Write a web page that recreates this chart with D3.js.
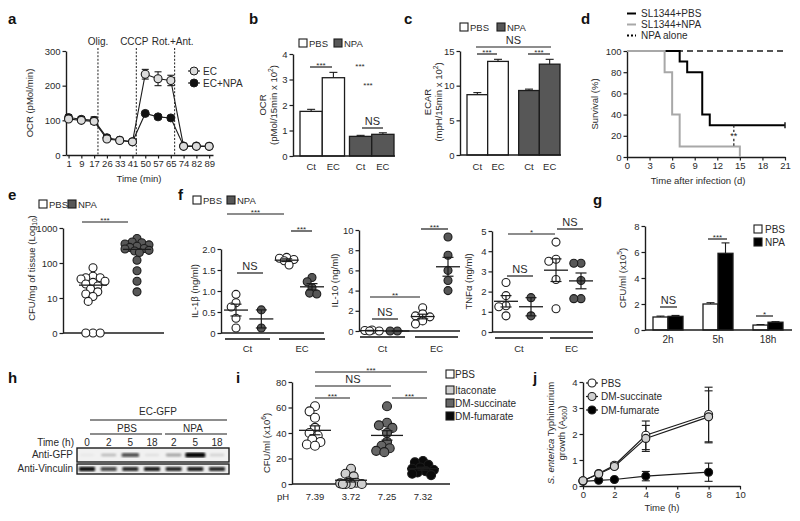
<!DOCTYPE html>
<html><head><meta charset="utf-8">
<script src="https://cdn.jsdelivr.net/npm/d3@7"></script>
<style>
body{margin:0;background:#fff}
svg{display:block;font-family:"Liberation Sans",Arial,Helvetica,sans-serif}
</style></head><body>
<svg id="fig" width="800" height="521"></svg>
<script>
// ================= DATA =================
// a: OCR time course
const aTimes=[1,9,17,26,33,41,50,57,65,74,82,89];
const aEC=[104,100,97,46,42,38,233,220,215,25,25,25];
const aECerr=[6,5,8,4,3,3,14,20,15,3,3,3];
const aECNPA=[108,103,100,50,43,38,120,110,107,26,26,25];
const aECNPAerr=[8,8,10,5,4,4,6,6,5,3,3,3];
const aInjectNames=["Olig.","CCCP","Rot.+Ant."];
const aInjectAfter=[2,5,8];
// b: OCR bars
const bSamples=["Ct","EC"];
const bPBS=[1.75,3.07], bPBSerr=[0.08,0.21];
const bNPA=[0.77,0.85], bNPAerr=[0.04,0.06];
// c: ECAR bars
const cPBS=[8.7,13.5], cPBSerr=[0.3,0.3];
const cNPA=[9.3,13.1], cNPAerr=[0.2,0.7];
// d: survival
const dPBSdays=[0,7,8,10,11,21], dPBS=[100,90,80,40,30,30];
const dNPAdays=[0,5,6,7,15], dNPA=[100,80,40,10,0];
const dAloneDays=[0,21], dAlone=[100,100];
const dLegend=["SL1344+PBS","SL1344+NPA","NPA alone"];
// e: CFU per mg tissue
const ePBS=[73,42,38,38,35,30,28,25,22,18,15,13,11,8,0,0,0];
const eNPA=[500,400,380,350,330,300,280,260,250,230,220,200,120,60,30,15];
// f: cytokines [Ct PBS, Ct NPA, EC PBS, EC NPA]
const fGroups=["Ct PBS","Ct NPA","EC PBS","EC NPA"];
const fIL1b=[[0.92,0.72,0.62,0.35,0.12],[0.55,0.12],[1.8,1.78,1.75,1.72,1.62],[1.32,1.22,1.08,0.95,0.93]];
const fIL10=[[0.1,0.05,0,0],[0,0],[2.3,1.7,1.5,1.4,1.0,0.7],[9.3,7.5,6.0,5.0,4.0]];
const fTNF=[[2.45,1.8,1.3,1.25,0.8],[1.7,0.8],[4.45,3.6,3.5,2.6,1.15],[3.4,3.4,2.55,1.65,1.65]];
// g: CFU bars
const gTimes=["2h","5h","18h"];
const gPBS=[1.0,2.0,0.38], gPBSerr=[0.07,0.1,0.04];
const gNPA=[1.05,5.9,0.6], gNPAerr=[0.07,0.8,0.04];
// h: western blot
const hLanes=["0","2","5","18","2","5","18"];
const hGFP=[0.04,0.22,0.6,0.08,0.3,1.0,0.12];
const hVinc=[0.95,0.7,0.85,0.9,0.85,0.9,0.85];
// i: CFU with metabolites
const iGroups=["PBS","Itaconate","DM-succinate","DM-fumarate"];
const iPH=["7.39","3.72","7.25","7.32"];
const iPBS=[61,57,52,44,40,38,35,33,31,30];
const iIta=[12,8,6,2,1,0.5,0,0,0,0];
const iSucc=[61,48,46,44,40,33,30,28,26,25];
const iFum=[18,17,15,13,12,11,10,9,8,7];
// j: growth curves
const jTime=[0,1,2,4,8];
const jPBS=[0.2,0.48,0.8,1.95,2.75], jPBSerr=[0.02,0.04,0.08,0.55,1.05];
const jSucc=[0.2,0.46,0.75,1.83,2.66], jSuccErr=[0.02,0.04,0.07,0.5,1.0];
const jFum=[0.18,0.22,0.25,0.38,0.53], jFumErr=[0.02,0.03,0.04,0.18,0.35];

// ================= HELPERS =================
const svg=d3.select("#fig");
const INK="#1c1c1c", TXT="#2a2a2a", NPAC="#575757", FS=9.5;

function txt(x,y,s,o={}){
  const t=svg.append("text").attr("x",x).attr("y",y).attr("font-size",o.size||FS)
    .attr("fill",o.fill||TXT).attr("text-anchor",o.anchor||"start").text(s);
  if(o.weight) t.attr("font-weight",o.weight);
  return t;
}
function panel(x,y,s){ txt(x,y,s,{size:15,weight:"bold",fill:"#111"}); }
function rich(x,y,parts,o={}){
  const size=o.size||FS;
  const t=svg.append("text").attr("transform",`translate(${x},${y}) rotate(${o.rot===undefined?-90:o.rot})`)
    .attr("text-anchor",o.anchor||"middle").attr("font-size",size).attr("fill",TXT);
  let shift=0;
  parts.forEach(p=>{
    const [s,k]=Array.isArray(p)?p:[p,null];
    const ts=t.append("tspan").text(s);
    let target=0;
    if(k==="sup"){target=-size*0.38; ts.attr("font-size",size*0.7);}
    if(k==="sub"){target=size*0.25; ts.attr("font-size",size*0.7);}
    if(k==="i") ts.attr("font-style","italic");
    if(target!==shift){ts.attr("dy",target-shift); shift=target;}
  });
  return t;
}
function line(x1,y1,x2,y2,o={}){
  const l=svg.append("line").attr("x1",x1).attr("y1",y1).attr("x2",x2).attr("y2",y2)
    .attr("stroke",o.stroke||INK).attr("stroke-width",o.w||1.2);
  if(o.dash) l.attr("stroke-dasharray",o.dash);
  return l;
}
function leftAxis(x,y,ticks,fmt){
  const g=svg.append("g").attr("transform",`translate(${x},0)`)
    .call(d3.axisLeft(y).tickValues(ticks).tickFormat(fmt||(d=>d)).tickSize(3.5).tickSizeOuter(0).tickPadding(2));
  g.attr("font-family",null).attr("font-size",null);
  g.select(".domain").attr("stroke",INK).attr("stroke-width",1.4);
  g.selectAll(".tick line").attr("stroke",INK).attr("stroke-width",1.2);
  g.selectAll(".tick text").attr("fill",TXT).attr("font-size",FS);
  return g;
}
function bottomAxis(yPos,x,ticks,fmt){
  const g=svg.append("g").attr("transform",`translate(0,${yPos})`)
    .call(d3.axisBottom(x).tickValues(ticks).tickFormat(fmt||(d=>d)).tickSize(3.5).tickSizeOuter(0).tickPadding(2));
  g.attr("font-family",null).attr("font-size",null);
  g.select(".domain").attr("stroke",INK).attr("stroke-width",1.4);
  g.selectAll(".tick line").attr("stroke",INK).attr("stroke-width",1.2);
  g.selectAll(".tick text").attr("fill",TXT).attr("font-size",FS);
  return g;
}
function sig(x1,x2,y,label){
  line(x1,y,x2,y,{w:1.2});
  if(label.includes("*")) txt((x1+x2)/2,y+0.5,label,{anchor:"middle",size:8});
  else txt((x1+x2)/2,y-3,label,{anchor:"middle",size:11});
}
function box(x,y,fill,s=8){
  svg.append("rect").attr("x",x).attr("y",y).attr("width",s).attr("height",s)
    .attr("fill",fill).attr("stroke",INK).attr("stroke-width",1.1);
}
function errBar(x,y1,y2,cap){
  line(x,y1,x,y2,{w:1.1});
  line(x-cap/2,y2,x+cap/2,y2,{w:1.1});
}
// simple beeswarm: compact horizontal dodge, overlap allowed when crowded
function dodge(values,yf,r,cx,maxOff){
  const minD=r*1.45, step=r*0.6;
  const items=values.map(v=>({v,y:yf(v)})).sort((a,b)=>d3.ascending(a.y,b.y)||d3.descending(a.v,b.v));
  const placed=[];
  for(const it of items){
    let best=null,bestD=-1;
    for(let k=0;;k++){
      const off=(k===0?0:(k%2?-1:1)*Math.ceil(k/2))*step;
      if(Math.abs(off)>maxOff) break;
      const x=cx+off;
      const dmin=placed.length?d3.min(placed,p=>Math.hypot(p.x-x,p.y-it.y)):Infinity;
      if(dmin>=minD){best=x;break;}
      if(dmin>bestD){bestD=dmin;best=x;}
    }
    it.x=best; placed.push(it);
  }
  return placed;
}
function dots(values,cx,yf,r,fill,maxOff){
  const pts=dodge(values,yf,r,cx,maxOff);
  svg.append("g").selectAll("circle").data(pts).join("circle")
    .attr("cx",d=>d.x).attr("cy",d=>d.y).attr("r",r)
    .attr("fill",fill).attr("stroke",INK).attr("stroke-width",1.1);
}
function meanSem(values,cx,yf,half,cap){
  const m=d3.mean(values);
  line(cx-half,yf(m),cx+half,yf(m),{w:1.3});
  const s=d3.deviation(values)/Math.sqrt(values.length);
  line(cx,yf(m-s),cx,yf(m+s),{w:1.2});
  line(cx-cap/2,yf(m+s),cx+cap/2,yf(m+s),{w:1.2});
  line(cx-cap/2,yf(m-s),cx+cap/2,yf(m-s),{w:1.2});
}

// ================= PANEL a =================
panel(8,24,"a");
{
  const x=d3.scaleLinear().domain([-0.2,11.3]).range([66,213]);
  const y=d3.scaleLinear().domain([0,300]).range([155,51]);
  aInjectAfter.forEach((k,i)=>{
    const xx=x(k+0.3);
    line(xx,48,xx,155,{w:1,dash:"2,1.6"});
    txt(xx+(i===0?0:-2),45,aInjectNames[i],{anchor:"middle",size:10});
  });
  leftAxis(66,y,[0,100,200,300]);
  bottomAxis(155,x,d3.range(aTimes.length),i=>aTimes[i]);
  const idx=d3.range(aTimes.length);
  const ln=d3.line().x(i=>x(i));
  svg.append("path").attr("d",ln.y(i=>y(aEC[i]))(idx)).attr("fill","none").attr("stroke",INK).attr("stroke-width",1.1);
  svg.append("path").attr("d",ln.y(i=>y(aECNPA[i]))(idx)).attr("fill","none").attr("stroke",INK).attr("stroke-width",1.1);
  idx.forEach(i=>{
    errBar(x(i),y(aEC[i]-aECerr[i]),y(aEC[i]+aECerr[i]),7);
    line(x(i)-3.5,y(aEC[i]-aECerr[i]),x(i)+3.5,y(aEC[i]-aECerr[i]),{w:1.1});
    errBar(x(i),y(aECNPA[i]-aECNPAerr[i]),y(aECNPA[i]+aECNPAerr[i]),7);
    line(x(i)-3.5,y(aECNPA[i]-aECNPAerr[i]),x(i)+3.5,y(aECNPA[i]-aECNPAerr[i]),{w:1.1});
  });
  svg.append("g").selectAll("circle").data(idx).join("circle")
    .attr("cx",i=>x(i)).attr("cy",i=>y(aECNPA[i])).attr("r",4).attr("fill","#111").attr("stroke",INK);
  svg.append("g").selectAll("circle").data(idx).join("circle")
    .attr("cx",i=>x(i)).attr("cy",i=>y(aEC[i])).attr("r",4).attr("fill","#dcdcdc").attr("stroke",INK).attr("stroke-width",1.1);
  rich(33,103,["OCR (pMol/min)"]);
  txt(139,182,"Time (min)",{anchor:"middle"});
  line(188,71,200,71,{w:1.1}); svg.append("circle").attr("cx",194).attr("cy",71).attr("r",4).attr("fill","#dcdcdc").attr("stroke",INK);
  txt(203,74.5,"EC",{size:10});
  line(188,83,200,83,{w:1.1}); svg.append("circle").attr("cx",194).attr("cy",83).attr("r",4).attr("fill","#111").attr("stroke",INK);
  txt(203,86.5,"EC+NPA",{size:10});
}

// ================= PANEL b =================
panel(249,24,"b");
{
  const y=d3.scaleLinear().domain([0,4]).range([156,54]);
  const xo=d3.scaleBand().domain(["PBS","NPA"]).range([300,394]).paddingInner(0.1);
  const xi=d3.scaleBand().domain(bSamples).range([0,xo.bandwidth()]);
  const sets=[["PBS",bPBS,bPBSerr,"#fff"],["NPA",bNPA,bNPAerr,NPAC]];
  sets.forEach(([c,v,e,f])=>{
    bSamples.forEach((s,i)=>{
      const x0=xo(c)+xi(s);
      errBar(x0+xi.bandwidth()/2,y(v[i]),y(v[i]+e[i]),8);
      svg.append("rect").attr("x",x0).attr("y",y(v[i])).attr("width",xi.bandwidth()).attr("height",y(0)-y(v[i]))
        .attr("fill",f).attr("stroke",INK).attr("stroke-width",1.3);
      txt(x0+xi.bandwidth()/2,170,s,{anchor:"middle"});
    });
  });
  leftAxis(293,y,[0,1,2,3,4]);
  line(293,156,395,156,{w:1.4});
  sig(310,332,67,"***");
  txt(360,69,"***",{anchor:"middle",size:8});
  txt(368,88,"***",{anchor:"middle",size:8});
  sig(362,383,128,"NS");
  rich(266,105,["OCR"]);
  rich(277,105,["(pMol/15min x 10",["2","sup"],")"]);
  box(299,39,"#fff"); txt(309,47,"PBS");
  box(334,39,NPAC); txt(344,47,"NPA");
}

// ================= PANEL c =================
panel(404,24,"c");
{
  const y=d3.scaleLinear().domain([0,15]).range([155,51]);
  const xo=d3.scaleBand().domain(["PBS","NPA"]).range([467,560]).paddingInner(0.2);
  const xi=d3.scaleBand().domain(bSamples).range([0,xo.bandwidth()]);
  const sets=[["PBS",cPBS,cPBSerr,"#fff"],["NPA",cNPA,cNPAerr,NPAC]];
  sets.forEach(([c,v,e,f])=>{
    bSamples.forEach((s,i)=>{
      const x0=xo(c)+xi(s);
      errBar(x0+xi.bandwidth()/2,y(v[i]),y(v[i]+e[i]),8);
      svg.append("rect").attr("x",x0).attr("y",y(v[i])).attr("width",xi.bandwidth()).attr("height",y(0)-y(v[i]))
        .attr("fill",f).attr("stroke",INK).attr("stroke-width",1.3);
      txt(x0+xi.bandwidth()/2,170,s,{anchor:"middle"});
    });
  });
  leftAxis(460,y,[0,5,10,15]);
  line(460,155,561,155,{w:1.4});
  sig(476,551,47,"NS");
  sig(477,497,54,"***");
  sig(528,550,54,"***");
  rich(431,102,["ECAR"]);
  rich(442,102,["(mpH/15min x 10",["2","sup"],")"]);
  box(460,23,"#fff"); txt(470,31,"PBS");
  box(497,23,NPAC); txt(507,31,"NPA");
}

// ================= PANEL d =================
panel(581,24,"d");
{
  const x=d3.scaleLinear().domain([0,21]).range([627,785]);
  const y=d3.scaleLinear().domain([0,100]).range([157,51]);
  leftAxis(627,y,[0,20,40,60,80,100]);
  bottomAxis(157,x,d3.range(0,22,3));
  const st=d3.line().curve(d3.curveStepAfter);
  svg.append("path").attr("d",st(dAloneDays.map((d,i)=>[x(d),y(dAlone[i])]))).attr("fill","none")
    .attr("stroke",INK).attr("stroke-width",1.4).attr("stroke-dasharray","6,4");
  svg.append("path").attr("d",st(dPBSdays.map((d,i)=>[x(d),y(dPBS[i])]))).attr("fill","none")
    .attr("stroke","#000").attr("stroke-width",2);
  svg.append("path").attr("d",st(dNPAdays.map((d,i)=>[x(d),y(dNPA[i])]))).attr("fill","none")
    .attr("stroke","#a8a8a8").attr("stroke-width",2);
  line(x(21),y(30)-3,x(21),y(30)+3,{w:1.5});
  line(x(14.2),y(30),x(14.2),y(10),{w:1.2,dash:"2.5,2"});
  txt(x(14.2),y(20)+3,"**",{anchor:"middle",size:9,fill:"#111"}).attr("paint-order","stroke").attr("stroke","#fff").attr("stroke-width",2);
  rich(598,104,["Survival (%)"]);
  txt(698,184,"Time after infection (d)",{anchor:"middle"});
  const sty=[["#000",null],["#a8a8a8",null],["#000","2,2"]];
  dLegend.forEach((s,i)=>{
    const yy=13.5+i*11;
    line(627,yy,636,yy,{w:2,stroke:sty[i][0],dash:sty[i][1]});
    txt(641,yy+3.5,s,{size:10});
  });
}

// ================= PANEL e =================
panel(8,200,"e");
{
  const y=d3.scaleLog().domain([1,1000]).range([333,228]).clamp(true);
  const yv=v=>y(Math.max(v,1));
  leftAxis(63,y,[1,10,100,1000],d=>d===1?"0":d);
  line(63,333,164,333,{w:1.4});
  dots(ePBS,93,yv,4,"#fff",14);
  dots(eNPA,137,yv,4,NPAC,14);
  line(93-14,yv(d3.mean(ePBS)),93+14,yv(d3.mean(ePBS)),{w:1.3});
  line(137-14,yv(d3.mean(eNPA)),137+14,yv(d3.mean(eNPA)),{w:1.3});
  sig(82,128,222,"***");
  rich(35,268,["CFU/mg of tissue (Log",["10","sub"],")"]);
  box(39,200,"#fff"); txt(49,208,"PBS");
  box(68,200,NPAC); txt(78,208,"NPA");
}

// ================= PANEL f =================
panel(178,200,"f");
box(193,196,"#fff"); txt(203,204,"PBS");
box(227,196,NPAC); txt(237,204,"NPA");
function fPanel(data,axX,y0,y1,dom,ticks,fmt,gx,axEnd,ul,sigs,title,titleX){
  const y=d3.scaleLinear().domain(dom).range([y0,y1]);
  const x=d3.scalePoint().domain(fGroups).range(gx);
  leftAxis(axX,y,ticks,fmt);
  line(axX,y0,axEnd,y0,{w:1.4});
  fGroups.forEach((g,i)=>{
    dots(data[i],x(g),y,4,i%2?NPAC:"#fff",8);
  });
  fGroups.forEach((g,i)=>meanSem(data[i],x(g),y,12,11));
  ul.forEach(([a,b],i)=>{
    line(a,y0+6,b,y0+6,{w:2,stroke:"#4a4a4a"});
    txt((a+b)/2,352,i?"EC":"Ct",{anchor:"middle"});
  });
  sigs.forEach(s=>sig(s[0],s[1],s[2],s[3]));
  rich(titleX,(y0+y1)/2,title);
}
fPanel(fIL1b,221,333,249,[0,2],[0,0.5,1,1.5,2],d=>d===0?"0":d3.format(".1f")(d),[236,312],324,
  [[225,270],[279,325]],[[237,263,273,"NS"],[227,284,214,"***"],[291,312,231,"***"]],["IL-1β (ng/ml)"],198);
fPanel(fIL10,359,331,230,[0,10],[0,2,4,6,8,10],null,[372,448],460,
  [[360,405],[415,458]],[[372,398,319,"NS"],[370,420,297,"**"],[421,448,229,"***"]],["IL-10 (ng/ml)"],338);
fPanel(fTNF,492,332,231,[0,5],[0,1,2,3,4,5],null,[506,581],593,
  [[495,543],[550,593]],[[507,533,276,"NS"],[508,555,234,"*"],[557,583,229,"NS"]],["TNFα (ng/ml)"],472);

// ================= PANEL g =================
panel(593,205,"g");
{
  const y=d3.scaleLinear().domain([0,8]).range([330,226]);
  const xo=d3.scaleBand().domain(gTimes).range([653,783]).paddingInner(0.4);
  const xi=d3.scaleBand().domain(["PBS","NPA"]).range([0,xo.bandwidth()]);
  gTimes.forEach((t,i)=>{
    [["PBS",gPBS,gPBSerr,"#fff"],["NPA",gNPA,gNPAerr,"#000"]].forEach(([c,v,e,f])=>{
      const x0=xo(t)+xi(c);
      errBar(x0+xi.bandwidth()/2,y(v[i]),y(v[i]+e[i]),8);
      svg.append("rect").attr("x",x0).attr("y",y(v[i])).attr("width",xi.bandwidth()).attr("height",y(0)-y(v[i]))
        .attr("fill",f).attr("stroke",INK).attr("stroke-width",1.3);
    });
    txt(xo(t)+xo.bandwidth()/2,343,t,{anchor:"middle",size:10});
  });
  leftAxis(645,y,[0,2,4,6,8]);
  line(645,330,792,330,{w:1.4});
  sig(660,677,307,"NS");
  sig(708,727,239,"***");
  sig(756,773,316,"*");
  rich(626,278,["CFU/ml (x10",["5","sup"],")"]);
  box(754,225,"#fff"); txt(765,233,"PBS",{size:10});
  box(754,238,"#000"); txt(765,246,"NPA",{size:10});
}

// ================= PANEL h =================
panel(8,383,"h");
{
  const x=d3.scalePoint().domain(d3.range(hLanes.length)).range([87,217]);
  txt(158,415,"EC-GFP",{anchor:"middle",size:10});
  line(90,420,227,420,{w:1.2});
  txt(127,432,"PBS",{anchor:"middle",size:10});
  line(90,434,162,434,{w:1.2});
  txt(193,432,"NPA",{anchor:"middle",size:10});
  line(165,434,227,434,{w:1.2});
  txt(74,446,"Time (h)",{anchor:"end",size:10});
  hLanes.forEach((l,i)=>txt(x(i),446,l,{anchor:"middle",size:10}));
  const defs=svg.append("defs");
  defs.append("filter").attr("id","blur").append("feGaussianBlur").attr("stdDeviation",0.9);
  svg.append("rect").attr("x",77).attr("y",448).attr("width",152).attr("height",14).attr("fill","#f1f1f1").attr("stroke",INK).attr("stroke-width",1.4);
  svg.append("rect").attr("x",77).attr("y",464).attr("width",152).attr("height",10).attr("fill","#ececec").attr("stroke",INK).attr("stroke-width",1.4);
  svg.append("g").attr("filter","url(#blur)").selectAll("rect").data(hGFP).join("rect")
    .attr("x",(d,i)=>x(i)-7-d*3).attr("y",d=>455-1-d*1.5).attr("width",d=>14+d*6).attr("height",d=>2+d*3).attr("rx",1.5)
    .attr("fill","#000").attr("opacity",d=>Math.min(1,d*1.1));
  svg.append("g").attr("filter","url(#blur)").selectAll("rect").data(hVinc).join("rect")
    .attr("x",(d,i)=>x(i)-8).attr("y",d=>469-1.2-d).attr("width",16).attr("height",d=>2.4+d*2).attr("rx",1)
    .attr("fill","#000").attr("opacity",d=>d);
  txt(73,458,"Anti-GFP",{anchor:"end",size:10});
  txt(73,472,"Anti-Vinculin",{anchor:"end",size:10});
}

// ================= PANEL i =================
panel(236,383,"i");
{
  const y=d3.scaleLinear().domain([0,80]).range([484,382]);
  const x=d3.scalePoint().domain(iGroups).range([315,423]);
  leftAxis(292,y,[0,20,40,60,80]);
  line(292,484,450,484,{w:1.4});
  const sets=[iPBS,iIta,iSucc,iFum], fills=["#fff","#cfcfcf","#666","#0a0a0a"];
  iGroups.forEach((g,i)=>dots(sets[i],x(g),y,4.5,fills[i],11));
  iGroups.forEach((g,i)=>meanSem(sets[i],x(g),y,16,11));
  txt(283,500,"pH",{anchor:"middle"});
  iGroups.forEach((g,i)=>txt(x(g),500,iPH[i],{anchor:"middle"}));
  sig(315,427,372,"***");
  sig(315,391,386,"NS");
  sig(315,350,398,"***");
  sig(392,427,398,"***");
  rich(270,443,["CFU/ml (x10",["6","sup"],")"]);
  iGroups.forEach((g,i)=>{
    const yy=[370,386,399,412][i];
    box(446,yy,fills[i]);
    txt(455,yy+8,g,{size:10});
  });
}

// ================= PANEL j =================
panel(533,383,"j");
{
  const x=d3.scaleLinear().domain([0,10]).range([583,740]);
  const y=d3.scaleLinear().domain([0,4]).range([486,382]);
  leftAxis(583,y,[0,1,2,3,4]);
  bottomAxis(486,x,[0,2,4,6,8,10]);
  const series=[[jFum,jFumErr,"#000"],[jPBS,jPBSerr,"#fff"],[jSucc,jSuccErr,"#cfcfcf"]];
  const ln=d3.line().x((d,i)=>x(jTime[i])).y(d=>y(d));
  series.forEach(([v,e,f])=>{
    svg.append("path").attr("d",ln(v)).attr("fill","none").attr("stroke",INK).attr("stroke-width",1.2);
    v.forEach((d,i)=>{
      line(x(jTime[i]),y(d-e[i]),x(jTime[i]),y(d+e[i]),{w:1.1});
      line(x(jTime[i])-4,y(d+e[i]),x(jTime[i])+4,y(d+e[i]),{w:1.1});
      line(x(jTime[i])-4,y(d-e[i]),x(jTime[i])+4,y(d-e[i]),{w:1.1});
    });
  });
  series.forEach(([v,e,f])=>{
    svg.append("g").selectAll("circle").data(v).join("circle")
      .attr("cx",(d,i)=>x(jTime[i])).attr("cy",d=>y(d)).attr("r",4).attr("fill",f).attr("stroke",INK).attr("stroke-width",1.1);
  });
  txt(662,511,"Time (h)",{anchor:"middle"});
  rich(554,433,[["S. enterica","i"]," Typhimurium"]);
  rich(565,433,["growth (A",["600","sub"],")"]);
  const leg=[["PBS","#fff"],["DM-succinate","#cfcfcf"],["DM-fumarate","#000"]];
  leg.forEach(([s,f],i)=>{
    const yy=383+i*13.5;
    line(586,yy,598,yy,{w:1.2});
    svg.append("circle").attr("cx",592).attr("cy",yy).attr("r",4).attr("fill",f).attr("stroke",INK).attr("stroke-width",1.1);
    txt(601,yy+3.5,s,{size:10});
  });
}
</script></body></html>
